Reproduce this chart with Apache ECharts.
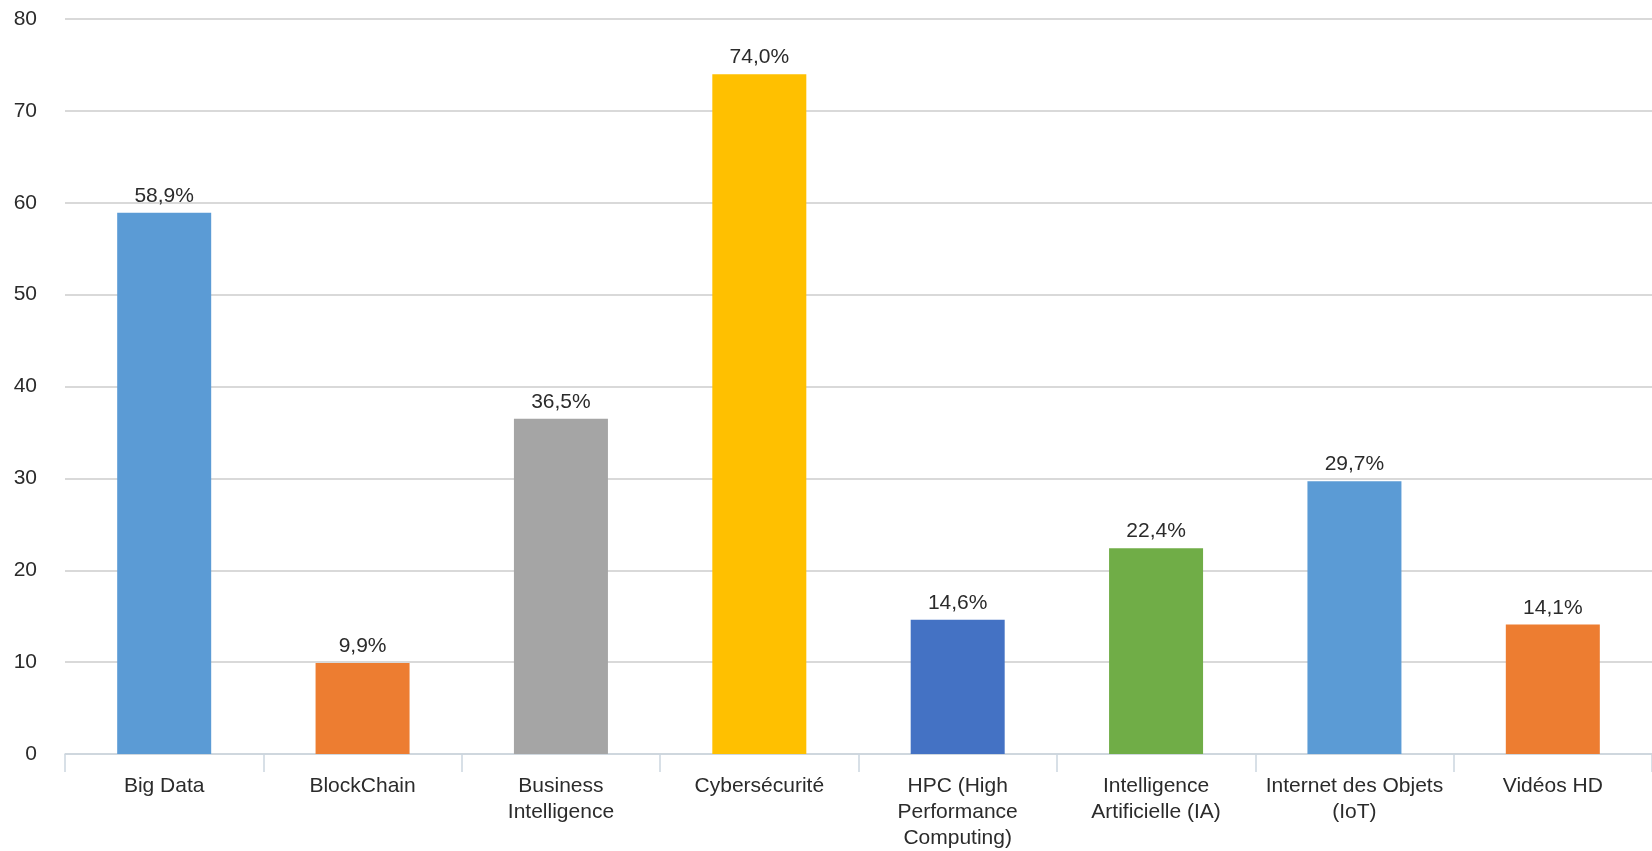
<!DOCTYPE html>
<html>
<head>
<meta charset="utf-8">
<script src="https://cdn.jsdelivr.net/npm/echarts@6/dist/echarts.min.js"></script>
<style>html,body{margin:0;padding:0;background:#fff;}#c{width:1652px;height:851px;}</style>
</head>
<body>
<div id="c"></div>
<script>
const categories = ["Big Data", "BlockChain", "Business\nIntelligence", "Cybersécurité", "HPC (High\nPerformance\nComputing)", "Intelligence\nArtificielle (IA)", "Internet des Objets\n(IoT)", "Vidéos HD"];
const values = [58.9, 9.9, 36.5, 74.0, 14.6, 22.4, 29.7, 14.1];
const barColors = ["#5B9BD5", "#ED7D31", "#A5A5A5", "#FFC000", "#4472C4", "#70AD47", "#5B9BD5", "#ED7D31"];
const yMin = 0, yMax = 80, yStep = 10;

const FONT = 'Liberation Sans, Arial, sans-serif';
const chart = echarts.init(document.getElementById('c'));
chart.setOption({
  animation: false,
  grid: { left: 65, right: -13, top: 19, bottom: 91, containLabel: false },
  xAxis: {
    type: 'category',
    data: categories,
    axisLine: { lineStyle: { color: '#CCD6E0', width: 1.5 } },
    axisTick: { show: true, length: 18, lineStyle: { color: '#CCD6E0', width: 1.5 } },
    axisLabel: { color: '#2b2b2b', fontFamily: FONT, fontSize: 21, lineHeight: 26, margin: 19, interval: 0 }
  },
  yAxis: {
    type: 'value', min: yMin, max: yMax, interval: yStep,
    axisLine: { show: false }, axisTick: { show: false },
    splitLine: { lineStyle: { color: '#D9D9D9', width: 2 } },
    axisLabel: { color: '#2b2b2b', fontFamily: FONT, fontSize: 21, margin: 28 }
  },
  series: [{
    type: 'bar',
    data: values.map((v, i) => ({ value: v, itemStyle: { color: barColors[i] } })),
    barWidth: 94,
    label: {
      show: true, position: 'top', distance: 6,
      color: '#2b2b2b', fontFamily: FONT, fontSize: 21,
      formatter: p => p.value.toFixed(1).replace('.', ',') + '%'
    }
  }]
});
</script>
</body>
</html>
